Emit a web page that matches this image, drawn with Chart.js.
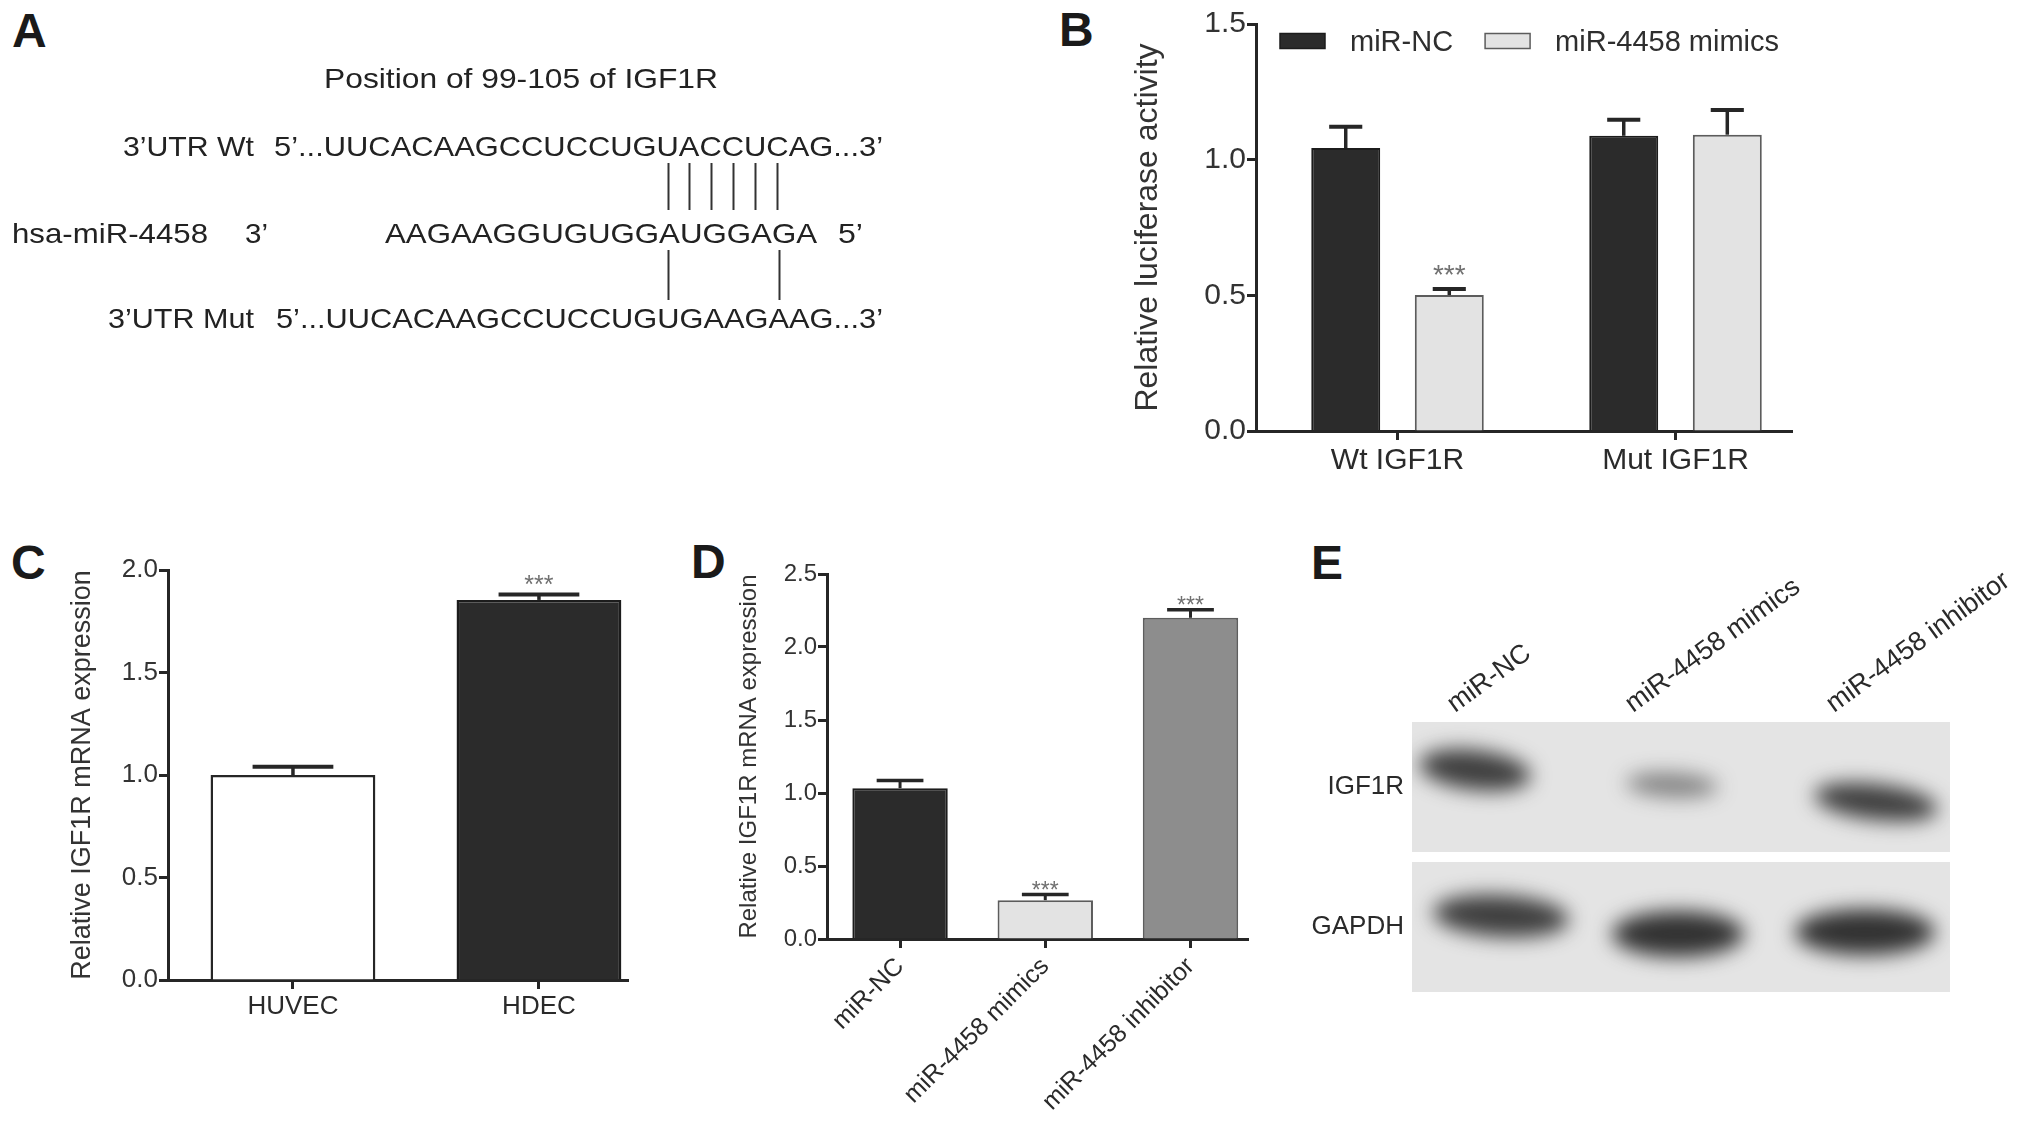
<!DOCTYPE html>
<html>
<head>
<meta charset="utf-8">
<script src="https://cdn.jsdelivr.net/npm/chart.js@4.4.1/dist/chart.umd.min.js"></script>
<style>
  body { margin: 0; width: 2031px; height: 1122px; background: #fff; position: relative; overflow: hidden; }
  canvas { position: absolute; }
  .tag { position: absolute; font: bold 48px/48px "Liberation Sans", Arial, sans-serif; color: #1a1a1a; }
</style>
</head>
<body>
<div class="tag" style="left:12px;top:7px">A</div>
<div class="tag" style="left:1059px;top:6px">B</div>
<div class="tag" style="left:11px;top:539px">C</div>
<div class="tag" style="left:691px;top:538px">D</div>
<div class="tag" style="left:1311px;top:539px">E</div>

<canvas id="seq" width="1000" height="360" style="left:0;top:0"></canvas>
<canvas id="chartB" width="671" height="500" style="left:1129px;top:0"></canvas>
<canvas id="chartC" width="574" height="500" style="left:66px;top:540px"></canvas>
<canvas id="chartD" width="525" height="578" style="left:735px;top:544px"></canvas>
<canvas id="blot" width="731" height="500" style="left:1300px;top:530px"></canvas>

<script>
// ---- data ----
// B: luciferase reporter
const bGroups = ['Wt IGF1R', 'Mut IGF1R'];
const bSeries = ['miR-NC', 'miR-4458 mimics'];
const bNC = [1.043, 1.088];
const bNCErr = [0.078, 0.059];
const bMimics = [0.501, 1.092];
const bMimicsErr = [0.022, 0.091];
const bMimicsSig = ['***', ''];
const bTicks = [0, 0.5, 1.0, 1.5];

// C: IGF1R mRNA in cells
const cCells = ['HUVEC', 'HDEC'];
const cExpr = [1.00, 1.854];
const cErr = [0.040, 0.027];
const cSig = ['', '***'];
const cTicks = [0, 0.5, 1.0, 1.5, 2.0];

// D: IGF1R mRNA after transfection
const dGroups = ['miR-NC', 'miR-4458 mimics', 'miR-4458 inhibitor'];
const dExpr = [1.033, 0.266, 2.200];
const dErr = [0.052, 0.039, 0.055];
const dSig = ['', '***', '***'];
const dTicks = [0, 0.5, 1.0, 1.5, 2.0, 2.5];

// A: target site
const wtSeq = '5’...UUCACAAGCCUCCUGUACCUCAG...3’';
const mutSeq = '5’...UUCACAAGCCUCCUGUGAAGAAG...3’';
const mirSeq = 'AAGAAGGUGUGGAUGGAGA';
const wtPairs = [20, 21, 22, 23, 24, 25];
const mutPairs = [20, 25];

// E: blot lanes
const lanes = ['miR-NC', 'miR-4458 mimics', 'miR-4458 inhibitor'];
const blotRows = ['IGF1R', 'GAPDH'];

const FONT = '"Liberation Sans", Arial, sans-serif';
const INK = '#262626';
const DARK = '#2b2b2b';
const LIGHT = '#e3e3e3';
const MID = '#8d8d8d';

Chart.defaults.font.family = FONT;
Chart.defaults.color = '#2e2e2e';
Chart.defaults.animation = false;

// error bars (upper only) and significance stars
const errorBars = {
  id: 'errorBars',
  afterDatasetsDraw(chart, args, o) {
    const ctx = chart.ctx, y = chart.scales.y;
    ctx.save();
    chart.data.datasets.forEach((ds, di) => {
      chart.getDatasetMeta(di).data.forEach((bar, i) => {
        const top = y.getPixelForValue(ds.data[i].y + ds.errors[i]);
        const half = bar.width * o.cap / 2;
        ctx.strokeStyle = INK;
        ctx.lineWidth = o.stem;
        ctx.beginPath(); ctx.moveTo(bar.x, bar.y); ctx.lineTo(bar.x, top); ctx.stroke();
        ctx.lineWidth = o.capWidth;
        ctx.beginPath(); ctx.moveTo(bar.x - half, top); ctx.lineTo(bar.x + half, top); ctx.stroke();
        if (ds.marks && ds.marks[i]) {
          ctx.fillStyle = '#707070';
          ctx.font = o.markSize + 'px ' + FONT;
          ctx.textAlign = 'center';
          ctx.textBaseline = 'alphabetic';
          ctx.fillText(ds.marks[i], bar.x, top - o.markGap + o.markSize * 0.58);
        }
      });
    });
    ctx.restore();
  }
};

// legend drawn inside the plot area
const boxLegend = {
  id: 'boxLegend',
  afterDraw(chart, args, o) {
    if (!o.show) return;
    const ctx = chart.ctx, a = chart.chartArea;
    let x = a.left + o.dx;
    const cy = a.top + o.dy;
    ctx.save();
    ctx.font = o.size + 'px ' + FONT;
    ctx.textBaseline = 'middle';
    chart.data.datasets.forEach(ds => {
      ctx.fillStyle = ds.backgroundColor;
      ctx.fillRect(x, cy - o.boxH / 2, o.boxW, o.boxH);
      ctx.strokeStyle = ds.borderColor;
      ctx.lineWidth = 1.5;
      ctx.strokeRect(x, cy - o.boxH / 2, o.boxW, o.boxH);
      x += o.boxW + o.gap;
      ctx.fillStyle = '#2e2e2e';
      ctx.fillText(ds.label, x, cy + 2);
      x += ctx.measureText(ds.label).width + o.itemGap;
    });
    ctx.restore();
  }
};

function yAxis(ticks, title, size, titleSize, width) {
  return {
    min: 0,
    max: ticks[ticks.length - 1],
    afterBuildTicks: s => { s.ticks = ticks.map(v => ({ value: v })); },
    afterFit: s => { s.width = width; },
    ticks: { callback: v => v.toFixed(1), font: { size: size }, padding: 1, color: '#333' },
    grid: { drawOnChartArea: false, tickLength: 9, tickWidth: 3, tickColor: INK },
    border: { color: INK, width: 3 },
    title: { display: true, text: title, font: { size: titleSize }, padding: 0, color: '#333' }
  };
}

// linear index axis so the bar centres sit where the figure puts them
function xAxis(labels, min, max, size, height, rot, pad) {
  return {
    type: 'linear',
    min: min,
    max: max,
    offset: false,
    afterBuildTicks: s => { s.ticks = labels.map((l, i) => ({ value: i })); },
    afterFit: s => { s.height = height; },
    ticks: { callback: v => labels[v], font: { size: size }, minRotation: rot, maxRotation: rot, autoSkip: false, padding: pad, color: '#2a2a2a' },
    grid: { offset: false, drawOnChartArea: false, tickLength: 9, tickWidth: 3, tickColor: INK },
    border: { color: INK, width: 3 }
  };
}

const pts = arr => arr.map((y, x) => ({ x: x, y: y }));

// ---- B ----
new Chart(document.getElementById('chartB'), {
  type: 'bar',
  plugins: [errorBars, boxLegend],
  data: {
    datasets: [
      { label: bSeries[0], data: pts(bNC), errors: bNCErr, backgroundColor: DARK, borderColor: '#1c1c1c', borderWidth: 2, categoryPercentage: 0.745, barPercentage: 0.666 },
      { label: bSeries[1], data: pts(bMimics), errors: bMimicsErr, marks: bMimicsSig, backgroundColor: LIGHT, borderColor: '#5c5c5c', borderWidth: 2, categoryPercentage: 0.745, barPercentage: 0.666 }
    ]
  },
  options: {
    responsive: false,
    layout: { padding: { top: 24, right: 8, left: 0, bottom: 0 } },
    plugins: {
      legend: { display: false }, tooltip: { enabled: false },
      errorBars: { cap: 0.48, stem: 3.5, capWidth: 4, markSize: 28, markGap: 21 },
      boxLegend: { show: true, dx: 24, dy: 17, boxW: 45, boxH: 15, gap: 25, itemGap: 32, size: 29 }
    },
    scales: {
      x: xAxis(bGroups, -0.509, 1.419, 30, 69, 0, 3),
      y: yAxis(bTicks, 'Relative luciferase activity', 30, 32, 127)
    }
  }
});

// ---- C ----
new Chart(document.getElementById('chartC'), {
  type: 'bar',
  plugins: [errorBars],
  data: {
    datasets: [
      { label: 'IGF1R', data: pts(cExpr), errors: cErr, marks: cSig, backgroundColor: ['#ffffff', DARK], borderColor: [INK, '#1c1c1c'], borderWidth: 2.5, categoryPercentage: 0.67, barPercentage: 1 }
    ]
  },
  options: {
    responsive: false,
    layout: { padding: { top: 30, right: 12, left: 0, bottom: 0 } },
    plugins: {
      legend: { display: false }, tooltip: { enabled: false },
      errorBars: { cap: 0.49, stem: 3.5, capWidth: 4, markSize: 25, markGap: 16 }
    },
    scales: {
      x: xAxis(cCells, -0.508, 1.362, 26, 60, 0, 2),
      y: yAxis(cTicks, 'Relative IGF1R mRNA expression', 26, 27, 102)
    }
  }
});

// ---- D ----
new Chart(document.getElementById('chartD'), {
  type: 'bar',
  plugins: [errorBars],
  data: {
    datasets: [
      { label: 'IGF1R', data: pts(dExpr), errors: dErr, marks: dSig, backgroundColor: [DARK, LIGHT, MID], borderColor: ['#1c1c1c', '#5c5c5c', '#5e5e5e'], borderWidth: 2, categoryPercentage: 0.657, barPercentage: 1 }
    ]
  },
  options: {
    responsive: false,
    layout: { padding: { top: 30, right: 12, left: 0, bottom: 0 } },
    plugins: {
      legend: { display: false }, tooltip: { enabled: false },
      errorBars: { cap: 0.49, stem: 3, capWidth: 3.5, markSize: 23, markGap: 10 }
    },
    scales: {
      x: xAxis(dGroups, -0.503, 2.396, 25, 183, 45, 4),
      y: yAxis(dTicks, 'Relative IGF1R mRNA expression', 24, 24, 92)
    }
  }
});

// ---- A: sequence alignment ----
const sq = document.getElementById('seq').getContext('2d');
sq.fillStyle = '#222';
sq.font = '28px ' + FONT;

function fitText(ctx, str, x0, x1, base) {
  const k = (x1 - x0) / ctx.measureText(str).width;
  ctx.save();
  ctx.translate(x0, base);
  ctx.scale(k, 1);
  ctx.fillText(str, 0, 0);
  ctx.restore();
  return i => x0 + k * (ctx.measureText(str.slice(0, i)).width + ctx.measureText(str[i]).width / 2);
}

fitText(sq, 'Position of 99-105 of IGF1R', 324, 718, 88);
fitText(sq, '3’UTR Wt', 123, 254, 156);
const wtAt = fitText(sq, wtSeq, 274, 883, 156);
fitText(sq, 'hsa-miR-4458', 12, 208, 243);
fitText(sq, '3’', 245, 268, 243);
fitText(sq, mirSeq, 385, 817, 243);
fitText(sq, '5’', 838, 863, 243);
fitText(sq, '3’UTR Mut', 108, 254, 328);
const mutAt = fitText(sq, mutSeq, 276, 883, 328);

sq.strokeStyle = '#333';
sq.lineWidth = 2;
wtPairs.forEach(i => {
  const x = Math.round(wtAt(i)) + 0.5;
  sq.beginPath(); sq.moveTo(x, 163); sq.lineTo(x, 210); sq.stroke();
});
mutPairs.forEach(i => {
  const x = Math.round(mutAt(i)) + 0.5;
  sq.beginPath(); sq.moveTo(x, 250); sq.lineTo(x, 300); sq.stroke();
});

// ---- E: western blot ----
const bl = document.getElementById('blot').getContext('2d');
const strips = [[112, 192, 538, 130], [112, 332, 538, 130]];
// cx, cy, rx, ry, tilt, darkness
const bands = [
  [[175, 240, 56, 20, 0.12, 0.88], [372, 255, 46, 12, 0.05, 0.52], [576, 272, 62, 18, 0.12, 0.88]],
  [[201, 386, 68, 21, 0.06, 0.88], [378, 404, 66, 23, 0.0, 0.95], [565, 402, 70, 23, 0.0, 0.95]]
];
strips.forEach((r, s) => {
  bl.save();
  bl.beginPath(); bl.rect(r[0], r[1], r[2], r[3]); bl.clip();
  bl.fillStyle = '#e4e4e4';
  bl.fillRect(r[0], r[1], r[2], r[3]);
  bl.filter = 'blur(10px)';
  bands[s].forEach(b => {
    bl.fillStyle = 'rgba(40,40,40,' + b[5] + ')';
    bl.beginPath(); bl.ellipse(b[0], b[1], b[2], b[3], b[4], 0, Math.PI * 2); bl.fill();
  });
  bl.restore();
});

bl.fillStyle = '#2a2a2a';
bl.font = '26px ' + FONT;
bl.textAlign = 'right';
bl.textBaseline = 'middle';
bl.fillText(blotRows[0], 104, 257);
bl.fillText(blotRows[1], 104, 397);

bl.font = '27px ' + FONT;
bl.textAlign = 'left';
bl.textBaseline = 'alphabetic';
const laneStart = [155, 333, 534];
lanes.forEach((name, i) => {
  bl.save();
  bl.translate(laneStart[i], 183);
  bl.rotate(-36 * Math.PI / 180);
  bl.fillText(name, 0, 0);
  bl.restore();
});
</script>
</body>
</html>
